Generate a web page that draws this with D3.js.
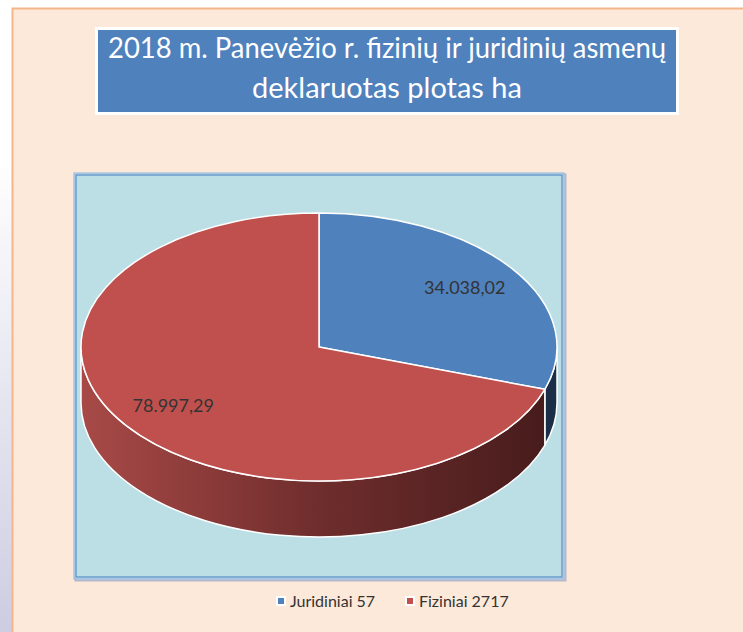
<!DOCTYPE html>
<html>
<head>
<meta charset="utf-8">
<script src="https://cdn.jsdelivr.net/npm/d3@7"></script>
<style>
  body { margin: 0; background: #fff; }
  svg { display: block; }
</style>
</head>
<body>
<svg id="chart" width="743" height="632"></svg>
<script>
// data
const categories = ["Juridiniai 57", "Fiziniai 2717"];
const areas = [34038.02, 78997.29];
const titleLines = ["2018 m. Panevėžio r. fizinių ir juridinių asmenų", "deklaruotas plotas ha"];

const colors = { "Juridiniai 57": "#4f81bd", "Fiziniai 2717": "#c0504d" };

const width = 743;
const height = 632;

const svg = d3.select("#chart");
const defs = svg.append("defs");

// left strip gradient
const strip = defs.append("linearGradient")
  .attr("id", "strip").attr("x1", 0).attr("y1", 0).attr("x2", 0).attr("y2", 1);
strip.append("stop").attr("offset", 0.25).attr("stop-color", "#ffffff");
strip.append("stop").attr("offset", 1).attr("stop-color", "#cdcde2");

svg.append("rect").attr("width", width).attr("height", height).attr("fill", "#fff");
svg.append("rect").attr("x", 0).attr("y", 0).attr("width", 12).attr("height", height)
  .attr("fill", "url(#strip)");

// slide background
svg.append("rect")
  .attr("x", 12.5).attr("y", 8.5)
  .attr("width", width).attr("height", height)
  .attr("fill", "#fde9d9")
  .attr("stroke", "#f5b58a")
  .attr("stroke-width", 2);

// title box
svg.append("rect")
  .attr("x", 95).attr("y", 27).attr("width", 584).attr("height", 88)
  .attr("fill", "#ffffff");
svg.append("rect")
  .attr("x", 98).attr("y", 30).attr("width", 578).attr("height", 82)
  .attr("fill", "#4f81bd");

const title = svg.append("g").attr("font-family", "Lato, 'Open Sans', sans-serif")
  .attr("fill", "#ffffff").attr("text-anchor", "middle");
title.selectAll("text")
  .data(titleLines)
  .join("text")
  .attr("x", 387)
  .attr("y", (d, i) => 58 + i * 40)
  .attr("font-size", 29)
  .text(d => d)
  .each(function(d, i) {
    const target = i === 0 ? 558 : 292;
    const len = this.getComputedTextLength();
    if (len > target) {
      d3.select(this).attr("textLength", target).attr("lengthAdjust", "spacingAndGlyphs");
    }
  });

// plot frame
const frame = { x: 74, y: 173, w: 490, h: 406 };
svg.append("rect")
  .attr("x", frame.x + 1.5).attr("y", frame.y + 1.5)
  .attr("width", frame.w).attr("height", frame.h)
  .attr("fill", "none").attr("stroke", "#b4b8cc").attr("stroke-width", 2);
svg.append("rect")
  .attr("x", frame.x).attr("y", frame.y)
  .attr("width", frame.w).attr("height", frame.h)
  .attr("fill", "#bcdfe6").attr("stroke", "#8db3e2").attr("stroke-width", 1);
svg.append("rect")
  .attr("x", frame.x + 2).attr("y", frame.y + 2)
  .attr("width", frame.w - 4).attr("height", frame.h - 4)
  .attr("fill", "none").attr("stroke", "#5b8bc6").attr("stroke-width", 1.2);

// 3d pie
const cx = 319, cy = 347, rx = 238, ry = 134, depth = 56;

const pie = d3.pie().sort(null).value(d => d.value);
const arcs = pie(categories.map((c, i) => ({ name: c, value: areas[i] })));

const pt = (a, dy = 0) => [cx + rx * Math.sin(a), cy - ry * Math.cos(a) + dy];

// side gradients
const sideStops = {
  "Fiziniai 2717": ["#a84a47", "#6f2d2d", "#461b1b"],
  "Juridiniai 57": ["#2a4a73", "#22395a", "#1b2e48"]
};
Object.entries(sideStops).forEach(([k, s], i) => {
  const g = defs.append("linearGradient")
    .attr("id", "side" + i)
    .attr("gradientUnits", "userSpaceOnUse")
    .attr("x1", cx - rx).attr("x2", cx + rx).attr("y1", 0).attr("y2", 0);
  g.append("stop").attr("offset", 0).attr("stop-color", s[0]);
  g.append("stop").attr("offset", 0.5).attr("stop-color", s[1]);
  g.append("stop").attr("offset", 1).attr("stop-color", s[2]);
  sideStops[k].id = "side" + i;
});

function sidePath(d) {
  const a0 = Math.max(d.startAngle, Math.PI / 2);
  const a1 = Math.min(d.endAngle, Math.PI * 1.5);
  if (a1 <= a0) return null;
  const p0 = pt(a0), p1 = pt(a1), q1 = pt(a1, depth), q0 = pt(a0, depth);
  const large = a1 - a0 > Math.PI ? 1 : 0;
  return `M${p0}A${rx},${ry} 0 ${large} 1 ${p1}L${q1}A${rx},${ry} 0 ${large} 0 ${q0}Z`;
}

function topPath(d) {
  const p0 = pt(d.startAngle), p1 = pt(d.endAngle);
  const large = d.endAngle - d.startAngle > Math.PI ? 1 : 0;
  return `M${cx},${cy}L${p0}A${rx},${ry} 0 ${large} 1 ${p1}Z`;
}

const pieG = svg.append("g");

pieG.selectAll("path.side")
  .data(arcs.filter(d => sidePath(d)))
  .join("path")
  .attr("class", "side")
  .attr("d", sidePath)
  .attr("fill", d => `url(#${sideStops[d.data.name].id})`)
  .attr("stroke", "#ffffff")
  .attr("stroke-width", 1.5)
  .attr("stroke-linejoin", "round");

pieG.selectAll("path.top")
  .data(arcs)
  .join("path")
  .attr("class", "top")
  .attr("d", topPath)
  .attr("fill", d => colors[d.data.name])
  .attr("stroke", "#ffffff")
  .attr("stroke-width", 1.5)
  .attr("stroke-linejoin", "round");

// labels
const lt = d3.formatLocale({ decimal: ",", thousands: ".", grouping: [3], currency: ["", ""] });
const fmt = lt.format(",.2f");
const mid = d => (d.startAngle + d.endAngle) / 2;

pieG.selectAll("text")
  .data(arcs)
  .join("text")
  .attr("x", d => cx + rx * 0.755 * Math.sin(mid(d)))
  .attr("y", d => cy - ry * 0.755 * Math.cos(mid(d)) + 6)
  .attr("text-anchor", "middle")
  .attr("font-family", "Lato, 'Open Sans', sans-serif")
  .attr("font-size", 18)
  .attr("fill", "#333333")
  .text(d => fmt(d.data.value));

// legend
const legend = svg.append("g").attr("font-family", "Lato, 'Open Sans', sans-serif");
const lx = d3.scaleOrdinal().domain(categories).range([276, 405]);
const item = legend.selectAll("g")
  .data(categories)
  .join("g")
  .attr("transform", d => `translate(${lx(d)},601)`);
item.append("rect")
  .attr("x", 0).attr("y", -5).attr("width", 10).attr("height", 10)
  .attr("fill", "#ffffff");
item.append("rect")
  .attr("x", 2).attr("y", -3).attr("width", 6).attr("height", 6)
  .attr("fill", d => colors[d]);
item.append("text")
  .attr("x", 14).attr("y", 6)
  .attr("font-size", 16)
  .attr("fill", "#333333")
  .text(d => d);
</script>
</body>
</html>
